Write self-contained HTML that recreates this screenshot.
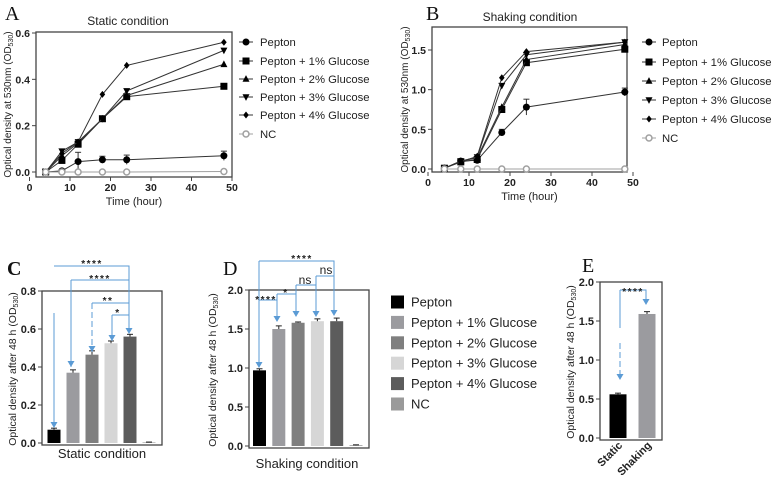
<!DOCTYPE html>
<html><head><meta charset="utf-8"><style>
html,body{margin:0;padding:0;background:#fff;width:777px;height:479px;overflow:hidden}
svg{display:block;font-family:"Liberation Sans",Arial,sans-serif}
</style></head><body>
<svg id="fig" width="777" height="479" viewBox="0 0 777 479"></svg>
<script>
// ---------- data ----------
const times = [4, 8, 12, 18, 24, 48];
const seriesNames = ["Pepton", "Pepton + 1% Glucose", "Pepton + 2% Glucose", "Pepton + 3% Glucose", "Pepton + 4% Glucose", "NC"];
const staticPepton = [0, 0.005, 0.045, 0.053, 0.053, 0.07];
const static1 = [0, 0.05, 0.12, 0.23, 0.325, 0.37];
const static2 = [0, 0.07, 0.125, 0.23, 0.33, 0.465];
const static3 = [0, 0.09, 0.13, 0.23, 0.35, 0.525];
const static4 = [0, 0.08, 0.13, 0.335, 0.46, 0.56];
const staticNC = [0, 0, 0, 0, 0, 0.002];
const staticPeptonErr = [0, 0.005, 0.04, 0.015, 0.02, 0.02];
const shakePepton = [0.01, 0.1, 0.11, 0.46, 0.78, 0.97];
const shake1 = [0.01, 0.09, 0.12, 0.75, 1.34, 1.51];
const shake2 = [0.01, 0.1, 0.14, 0.78, 1.38, 1.57];
const shake3 = [0.01, 0.1, 0.15, 1.05, 1.44, 1.6];
const shake4 = [0.01, 0.09, 0.16, 1.15, 1.48, 1.6];
const shakeNC = [0, 0, 0, 0, 0, 0];
const shakePeptonErr = [0, 0.01, 0.02, 0.04, 0.1, 0.05];
const barCats = ["Pepton", "Pepton + 1% Glucose", "Pepton + 2% Glucose", "Pepton + 3% Glucose", "Pepton + 4% Glucose", "NC"];
const barColors = ["#000000", "#9b9b9f", "#7f7f7f", "#d6d6d6", "#5c5c5c", "#9a9a9a"];
const staticBars = [0.07, 0.37, 0.465, 0.525, 0.56, 0.003];
const staticBarErr = [0.008, 0.015, 0.02, 0.012, 0.012, 0.002];
const shakeBars = [0.97, 1.5, 1.58, 1.6, 1.6, 0.01];
const shakeBarErr = [0.02, 0.04, 0.01, 0.03, 0.04, 0.005];
const eCats = ["Static", "Shaking"];
const eBars = [0.56, 1.59];
const eErr = [0.015, 0.03];
const ticksA = [0, 0.2, 0.4, 0.6];
const ticksB = [0, 0.5, 1.0, 1.5];
const ticksX = [0, 10, 20, 30, 40, 50];
const ticksC = [0, 0.2, 0.4, 0.6, 0.8];
const ticksD = [0, 0.5, 1.0, 1.5, 2.0];

// ---------- helpers ----------
const NS = "http://www.w3.org/2000/svg";
const svg = document.getElementById("fig");
function mk(tag, attrs, parent) {
  const e = document.createElementNS(NS, tag);
  for (const k in attrs) e.setAttribute(k, attrs[k]);
  (parent || svg).appendChild(e);
  return e;
}
function txt(s, attrs, parent) { const t = mk("text", attrs, parent); t.textContent = s; return t; }
function lin(d0, d1, r0, r1) { return v => r0 + (v - d0) * (r1 - r0) / (d1 - d0); }
const BLUE = "#5b9bd5";

function marker(g, type, x, y, s) {
  let e;
  if (type === 0) e = mk("circle", {cx: x, cy: y, r: s, fill: "#000"}, g);
  else if (type === 1) e = mk("rect", {x: x - s, y: y - s, width: 2 * s, height: 2 * s, fill: "#000"}, g);
  else if (type === 2) e = mk("path", {d: `M${x},${y - s * 1.1}L${x + s},${y + s * 0.8}L${x - s},${y + s * 0.8}Z`, fill: "#000"}, g);
  else if (type === 3) e = mk("path", {d: `M${x},${y + s * 1.1}L${x + s},${y - s * 0.8}L${x - s},${y - s * 0.8}Z`, fill: "#000"}, g);
  else if (type === 4) e = mk("path", {d: `M${x},${y - s}L${x + s * 0.8},${y}L${x},${y + s}L${x - s * 0.8},${y}Z`, fill: "#000"}, g);
  else e = mk("circle", {cx: x, cy: y, r: s * 0.85, fill: "#fff", stroke: "#a0a0a0", "stroke-width": 1.5}, g);
  return e;
}

function yLabel(x, cy, size) {
  const t = mk("text", {transform: `translate(${x},${cy}) rotate(-90)`, "text-anchor": "middle", "font-size": size, fill: "#222"});
  
  
  return t;
}
function addOD(t, prefix) {
  t.appendChild(document.createTextNode(prefix + " (OD"));
  const s = document.createElementNS(NS, "tspan"); s.setAttribute("font-size", "7"); s.setAttribute("dy", "2"); s.textContent = "530"; t.appendChild(s);
  const s2 = document.createElementNS(NS, "tspan"); s2.setAttribute("dy", "-2"); s2.textContent = ")"; t.appendChild(s2);
}

// ---------- line panels ----------
function linePanel(o) {
  const g = mk("g", {});
  
  
  const X = lin(10, 50, o.x10, o.x50), Y = lin(0, o.yt, o.y0, o.yT);
  const letter = txt(o.letter, {x: o.lx, y: 20, "font-family": "Liberation Serif, serif", "font-size": 20, fill: "#111"}, g);
  
  
  const title = txt(o.title, {x: o.tx, y: o.ty, "text-anchor": "middle", "font-size": 12, fill: "#222"}, g);
  
  
  const box = mk("rect", {x: o.bl, y: o.bt, width: o.br - o.bl, height: o.bb - o.bt, fill: "none", stroke: "#444", "stroke-width": 1.3}, g);
  
  
  o.yticks.forEach(v => {
    mk("line", {x1: o.bl - 4, x2: o.bl, y1: Y(v), y2: Y(v), stroke: "#444"}, g);
    const t = txt(v.toFixed(1), {x: o.bl - 6, y: Y(v) + 4, "text-anchor": "end", "font-size": 10.5, "font-weight": "bold", fill: "#222"}, g);
    
    
  });
  ticksX.forEach(v => {
    mk("line", {x1: X(v), x2: X(v), y1: o.bb, y2: o.bb + 4, stroke: "#444"}, g);
    const t = txt(String(v), {x: X(v), y: o.bb + 14, "text-anchor": "middle", "font-size": 10.5, "font-weight": "bold", fill: "#222"}, g);
    
    
  });
  const xt = txt("Time (hour)", {x: (o.bl + o.br) / 2, y: o.bb + 28, "text-anchor": "middle", "font-size": 11, fill: "#222"}, g);
  
  
  const yl = yLabel(o.ylx, (o.bt + o.bb) / 2, 10);
  addOD(yl, "Optical density at 530nm");
  o.series.forEach((s, i) => {
    const sg = mk("g", {}, g);
    
    
    const col = i === 5 ? "#a0a0a0" : "#333";
    const pts = times.map((t, j) => X(t) + "," + Y(s[j])).join(" ");
    const pl = mk("polyline", {points: pts, fill: "none", stroke: col, "stroke-width": 1}, sg);
    
    
    if (i === 0) {
      o.err.forEach((e, j) => {
        if (e > 0) {
          mk("line", {x1: X(times[j]), x2: X(times[j]), y1: Y(s[j] - e), y2: Y(s[j] + e), stroke: "#333"}, sg);
          mk("line", {x1: X(times[j]) - 3, x2: X(times[j]) + 3, y1: Y(s[j] + e), y2: Y(s[j] + e), stroke: "#333"}, sg);
        }
      });
    }
    times.forEach((t, j) => {
      const m = marker(sg, i, X(t), Y(s[j]), 3.5);
      
      
    });
  });
  seriesNames.forEach((n, i) => {
    const y = o.legY[i];
    const lg = mk("g", {}, g);
    
    
    mk("line", {x1: o.legX - 7, x2: o.legX + 7, y1: y, y2: y, stroke: i === 5 ? "#a0a0a0" : "#333"}, lg);
    marker(lg, i, o.legX, y, 3.5);
    txt(n, {x: o.legTx, y: y + 4, "font-size": 11.3, fill: "#222"}, lg);
  });
}
linePanel({name: "panel-a-static-line-chart", letter: "A", lx: 5, title: "Static condition", tx: 128, ty: 25,
  x10: 70, x50: 232, y0: 172, yT: 33, yt: 0.6, bl: 36, br: 232, bt: 32, bb: 177, yticks: ticksA,
  ylx: 11, series: [staticPepton, static1, static2, static3, static4, staticNC], err: staticPeptonErr,
  legX: 246, legTx: 260, legY: [42, 61, 79, 97, 115, 134]});
linePanel({name: "panel-b-shaking-line-chart", letter: "B", lx: 426, title: "Shaking condition", tx: 530, ty: 21,
  x10: 469, x50: 633, y0: 169, yT: 50, yt: 1.5, bl: 432, br: 627, bt: 27, bb: 172, yticks: ticksB,
  ylx: 408, series: [shakePepton, shake1, shake2, shake3, shake4, shakeNC], err: shakePeptonErr,
  legX: 649, legTx: 662, legY: [42, 62, 81, 100, 119, 138]});

// ---------- bar panels ----------
function barPanel(o) {
  const g = mk("g", {});
  
  
  const Y = lin(0, o.ymax, o.y0, o.yT);
  const letter = txt(o.letter, {x: o.lx, y: o.ly, "font-family": "Liberation Serif, serif", "font-size": 20, fill: "#111", "font-weight": o.letter === "C" ? "bold" : "normal"}, g);
  
  
  const box = mk("rect", {x: o.bl, y: o.yT, width: o.br - o.bl, height: o.y0 - o.yT + 2, fill: "none", stroke: "#444", "stroke-width": 1.3}, g);
  
  
  o.yticks.forEach(v => {
    mk("line", {x1: o.bl - 4, x2: o.bl, y1: Y(v), y2: Y(v), stroke: "#444"}, g);
    const t = txt(v.toFixed(1), {x: o.bl - 6, y: Y(v) + 4, "text-anchor": "end", "font-size": 11, "font-weight": "bold", fill: "#222"}, g);
    
    
  });
  const yl = yLabel(o.ylx, (o.yT + o.y0) / 2 + 2, 10.5);
  addOD(yl, "Optical density after 48 h ");
  o.vals.forEach((v, i) => {
    const cx = o.x0 + i * o.step;
    const b = mk("rect", {x: cx - o.bw / 2, y: Y(v), width: o.bw, height: o.y0 - Y(v), fill: o.colors[i]}, g);
    
    
    const e = o.err[i];
    mk("line", {x1: cx, x2: cx, y1: Y(v), y2: Y(v + e), stroke: "#222"}, g);
    mk("line", {x1: cx - 3, x2: cx + 3, y1: Y(v + e), y2: Y(v + e), stroke: "#222"}, g);
  });
  if (o.xtitle) {
    const t = txt(o.xtitle, {x: o.xtx, y: o.xty, "text-anchor": "middle", "font-size": 13, fill: "#222"}, g);
    
    
  }
  return g;
}
const gc = barPanel({name: "panel-c-static-bars", letter: "C", lx: 7, ly: 275, ymax: 0.8, y0: 443, yT: 291, bl: 42, br: 162,
  yticks: ticksC, ylx: 16, vals: staticBars, err: staticBarErr, cats: barCats, colors: barColors, x0: 54, step: 19, bw: 13,
  xtitle: "Static condition", xtx: 102, xty: 458});
const gd = barPanel({name: "panel-d-shaking-bars", letter: "D", lx: 223, ly: 275, ymax: 2.0, y0: 446, yT: 290, bl: 249, br: 369,
  yticks: ticksD, ylx: 216, vals: shakeBars, err: shakeBarErr, cats: barCats, colors: barColors, x0: 259.5, step: 19.3, bw: 13,
  xtitle: "Shaking condition", xtx: 307, xty: 468});
const ge = barPanel({name: "panel-e-comparison-bars", letter: "E", lx: 582, ly: 272, ymax: 2.0, y0: 438, yT: 282, bl: 600, br: 662,
  yticks: ticksD, ylx: 574, vals: eBars, err: eErr, cats: eCats, colors: ["#000", "#9b9b9f"], x0: 618, step: 29, bw: 17});
eCats.forEach((c, i) => {
  const x = 618 + i * 29;
  const t = txt(c, {transform: `translate(${x + 5},${446}) rotate(-45)`, "text-anchor": "end", "font-size": 11, "font-weight": "bold", fill: "#222"}, ge);
  
  
});

// legend D
barCats.forEach((c, i) => {
  const y = 302 + i * 20.4;
  const lg = mk("g", {});
  
  
  mk("rect", {x: 391, y: y - 6.5, width: 13, height: 13, fill: barColors[i]}, lg);
  txt(c, {x: 411, y: y + 4.5, "font-size": 13, fill: "#222"}, lg);
});

// ---------- significance annotations ----------
function path(d, dashed, parent) {
  const p = mk("path", {d: d, fill: "none", stroke: BLUE, "stroke-width": 1, "stroke-dasharray": dashed ? "6,3" : "none"}, parent);
  
  
  return p;
}
function arrow(x, y, parent) {
  const a = mk("path", {d: `M${x - 3.5},${y - 6}L${x + 3.5},${y - 6}L${x},${y}Z`, fill: BLUE}, parent);
  
  
}
function star(s, x, y, parent) {
  const t = txt(s, {x: x, y: y, "text-anchor": "middle", "font-size": s === "ns" ? 12 : 10, "font-weight": s === "ns" ? "normal" : "bold", fill: "#222", "letter-spacing": s === "ns" ? 0 : 1.5}, parent);
  
  
}
// C
path("M54,266H129V328", false, gc); arrow(129, 334, gc);
path("M71,280H129", false, gc); path("M71,280V367", false, gc); arrow(71, 367, gc);
path("M92,303H129", false, gc); path("M92,303V352", true, gc); arrow(92, 352, gc);
path("M112,315H129", false, gc); path("M112,315V341", false, gc); arrow(112, 341, gc);
path("M54,313V422", false, gc); arrow(54, 428, gc);
star("****", 92, 267, gc); star("****", 100, 282, gc); star("**", 108, 304, gc); star("*", 118, 316, gc);
// D
path("M259,261H334V310", false, gd); arrow(334, 316, gd);
path("M259,261V362", false, gd); arrow(259, 368, gd);
path("M316,276H334", false, gd); path("M316,276V311", false, gd); arrow(316, 317, gd);
path("M296,285H316", false, gd); path("M296,285V311", false, gd); arrow(296, 317, gd);
path("M277,294H296", false, gd); path("M277,294V316", false, gd); arrow(277, 322, gd);
path("M259,300H277", false, gd);
star("****", 302, 262, gd); star("ns", 326, 274, gd); star("ns", 305, 284, gd); star("*", 286, 296, gd); star("****", 266, 303, gd);
// E
path("M620,290H646V299", false, ge); arrow(646, 305, ge);
path("M620,290V328", false, ge); path("M620,343V374", true, ge); arrow(620, 380, ge);
star("****", 633, 295, ge);
</script>
</body></html>
